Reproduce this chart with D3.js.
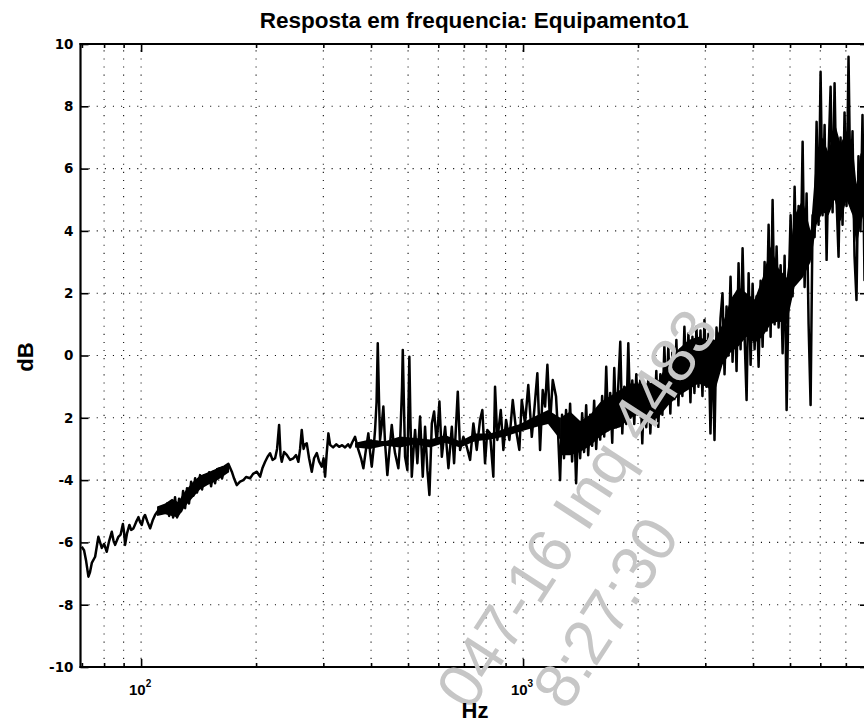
<!DOCTYPE html>
<html><head><meta charset="utf-8">
<script src="https://cdn.jsdelivr.net/npm/d3@7"></script>
<style>
html,body{margin:0;padding:0;background:#fff;}
svg{display:block;}
</style></head><body>
<svg id="chart" width="864" height="723"></svg>
<script>
const title = "Resposta em frequencia: Equipamento1";
const xLabel = "Hz";
const yLabel = "dB";
const xDomain = [69.4, 8000];
const yDomain = [-10, 10];
const yTickValues = [-10, -8, -6, -4, -2, 0, 2, 4, 6, 8, 10];
const yTickLabels = ["-10", "-8", "-6", "-4", "2", "0", "2", "4", "6", "8", "10"];
const xMajorTicks = [100, 1000];
const xMajorExponents = ["2", "3"];
const xMinorTicks = [70, 80, 90, 200, 300, 400, 500, 600, 700, 800, 900, 2000, 3000, 4000, 5000, 6000, 7000, 8000];
const watermarkLines = ["047-16 Inq 4483", "8:27:30"];

// trace, 70 Hz .. 1.24 kHz
const traceHz = [
69.9,70.9,71.8,72.8,73.5,74.3,75.8,77.3,78.1,78.9,80.0,81.3,82.5,83.8,84.7,85.5,87.2,88.4,89.6,90.3,
90.8,91.9,93.2,94.2,95.5,97.0,98.4,99.4,100.4,101.5,102.4,104.0,105.6,107.2,108.8,110.5,112.1,113.8,115.6,117.0,
118.4,119.8,121.3,122.7,124.2,125.7,127.3,128.8,130.4,131.9,133.5,135.2,137.1,138.5,140.1,142.7,144.4,146.2,148.6,150.7,
152.5,154.6,156.2,158.1,161.0,162.9,165.9,169.3,171.0,172.8,175.2,178.0,181.6,185.3,188.3,192.9,196.4,200.9,204.9,208.0,
211.2,214.4,217.6,220.9,224.3,227.0,229.8,231.8,233.5,236.8,240.7,245.5,250.4,254.5,258.1,260.8,263.4,266.3,268.7,271.5,
275.3,279.8,283.7,288.4,292.4,297.2,300.4,303.2,305.9,309.3,312.5,318.2,324.1,330.0,336.0,342.0,348.2,352.4,356.7,363.2,
369.9,376.6,381.9,388.1,393.5,397.6,401.7,406.1,409.8,413.5,416.5,419.8,422.3,426.1,430.8,435.2,441.3,447.2,453.2,458.2,
462.3,471.6,476.5,478.5,482.2,484.3,487.5,491.0,497.9,501.5,503.9,507.0,511.3,516.9,521.6,528.8,537.5,546.3,553.9,561.8,
568.7,577.0,585.0,594.6,604.0,612.8,625.1,637.7,650.9,659.8,674.7,684.1,697.9,712.3,726.7,741.3,756.4,771.6,782.4,795.2,
806.3,819.5,836.0,844.6,856.6,874.3,888.1,902.7,920.9,939.8,958.7,977.9,992.2,1012,1032,1054,1070,1090,1108,1126,
1142,1158,1177,1196,1220,1235
];
const traceDb = [
-6.14,-6.25,-6.6,-7.10,-6.95,-6.66,-6.46,-5.82,-6.0,-6.18,-6.05,-6.30,-5.95,-5.66,-5.95,-6.08,-5.82,-5.75,-5.41,-5.7,
-6.08,-5.7,-5.44,-5.6,-5.55,-5.35,-5.19,-5.35,-5.44,-5.2,-5.12,-5.35,-5.55,-5.3,-5.12,-5.0,-4.91,-5.05,-4.96,-4.75,
-5.15,-4.7,-5.2,-4.55,-5.2,-4.6,-5.0,-4.35,-4.9,-4.26,-4.75,-4.05,-4.5,-3.94,-4.4,-3.84,-4.3,-3.85,-4.0,-3.75,
-4.2,-3.73,-4.1,-3.65,-3.62,-3.95,-3.55,-3.48,-3.6,-3.73,-3.95,-4.16,-4.05,-4.00,-3.9,-3.94,-3.8,-3.73,-3.89,-3.6,
-3.41,-3.25,-3.14,-3.35,-3.30,-3.0,-2.23,-3.2,-3.41,-3.1,-3.19,-3.35,-3.30,-3.2,-3.41,-3.0,-2.39,-3.0,-2.85,-2.82,
-3.3,-3.73,-3.3,-3.13,-3.4,-3.57,-3.3,-3.89,-3.2,-2.50,-2.87,-2.95,-2.85,-2.93,-2.88,-2.95,-2.85,-2.95,-2.80,-2.61,
-3.0,-3.3,-3.62,-3.0,-2.50,-3.1,-3.57,-3.0,-2.39,-1.5,0.39,-1.5,-2.71,-2.3,-1.64,-2.8,-3.84,-3.0,-2.23,-2.8,
-3.14,-3.62,-2.8,-2.18,-1.0,0.18,-1.5,-3.25,-3.68,-1.5,-0.04,-2.0,-3.89,-3.0,-2.39,-3.46,-1.96,-3.89,-2.29,-3.68,
-4.48,-2.18,-1.80,-2.82,-1.48,-3.25,-2.29,-3.62,-2.29,-3.46,-1.16,-3.03,-2.61,-2.93,-3.35,-2.18,-3.03,-2.07,-1.75,-3.46,
-2.39,-2.50,-3.89,-1.00,-2.71,-1.75,-3.03,-2.07,-2.71,-1.43,-2.39,-3.03,-1.43,-2.18,-0.95,-2.61,-1.75,-0.57,-3.03,-1.11,
-1.64,-0.30,-2.18,-0.79,-1.32,-2.5
];
// dense, rapidly oscillating part, 1.25 kHz .. 8 kHz
const denseHz = [
1250,1265,1280,1296,1312,1328,1344,1360,1377,1394,
1411,1428,1445,1463,1481,1499,1517,1535,1554,1573,
1592,1611,1631,1651,1671,1691,1712,1733,1754,1775,
1797,1819,1841,1863,1886,1909,1932,1955,1979,2003,
2027,2052,2077,2102,2128,2154,2180,2206,2233,2260,
2288,2316,2344,2372,2401,2430,2460,2490,2520,2551,
2582,2613,2645,2677,2710,2743,2776,2810,2844,2879,
2914,2949,2985,3021,3058,3095,3133,3171,3210,3249,
3288,3328,3369,3410,3451,3493,3536,3579,3622,3666,
3711,3756,3802,3848,3895,3942,3990,4038,4087,4137,
4187,4238,4289,4341,4394,4447,4501,4556,4611,4667,
4724,4781,4839,4898,4957,5017,5078,5140,5202,5265,
5329,5394,5459,5525,5592,5660,5729,5798,5868,5939,
6011,6084,6158,6233,6309,6385,6462,6540,6619,6699,
6780,6862,6945,7029,7114,7200,7287,7375,7464,7554,
7646,7739,7833,7928,8000
];
const denseDb = [
-4.0,-1.9,-3.3,-1.75,-3.0,-1.55,-3.4,-2.0,-4.1,-2.2,
-3.3,-1.85,-3.1,-1.6,-3.2,-1.9,-2.9,-1.45,-3.0,-1.7,
-2.7,-1.3,-2.6,-0.36,-2.4,-1.2,-2.8,-0.4,-2.3,-1.0,
0.44,-2.5,-1.0,-2.2,0.39,-2.0,-0.8,-2.2,-0.6,-1.9,
-0.8,-2.82,-0.9,-2.3,-0.7,-2.5,-0.9,-2.1,-0.5,-2.29,
-0.6,-1.9,0.3,-1.5,0.28,-1.86,0.1,-1.4,0.5,-1.6,
0.2,-1.3,0.92,-1.0,0.71,-1.5,0.6,-1.2,0.92,-1.0,
0.8,-1.3,1.14,-1.0,0.7,-2.5,0.5,-2.71,0.9,-0.36,
1.2,2.0,-0.6,1.57,0.0,2.53,-0.2,1.9,-0.5,2.96,
0.2,3.44,0.6,-1.43,2.64,-0.3,2.3,0.2,1.9,-0.36,
2.4,0.28,3.0,0.8,4.2,0.6,4.99,1.0,3.5,0.9,
2.9,0.07,3.2,-1.75,2.0,4.5,1.9,5.42,2.4,4.8,
2.8,6.86,2.2,5.2,1.0,-1.59,4.5,3.8,7.5,4.2,
9.11,4.5,7.4,3.07,6.5,8.63,4.6,8.74,5.0,3.17,
7.0,4.2,7.8,4.8,9.59,5.0,7.2,3.2,1.78,6.4,
4.0,7.72,2.42,6.0,5.5
];
// solid cores of the trace, where samples overlap
const coreAHz = [110.1, 115.6, 120.5, 124.9, 130.4, 136.8, 142.7, 149.8, 156.2, 162.9, 170.0];
const coreATopDb = [-4.85, -4.75, -4.6, -4.7, -4.35, -4.05, -3.85, -3.75, -3.65, -3.55, -3.5];
const coreABottomDb = [-5.15, -5.1, -5.15, -5.2, -4.85, -4.55, -4.3, -4.15, -4.05, -3.9, -3.75];
const coreBHz = [363.2, 397.6, 435.2, 476.5, 521.6, 571.1, 625.1, 684.1, 748.7, 819.5, 897.3, 982.1, 1075, 1163, 1250];
const coreBTopDb = [-2.8, -2.7, -2.75, -2.6, -2.65, -2.7, -2.55, -2.75, -2.5, -2.5, -2.35, -2.2, -1.95, -1.75, -2.0];
const coreBBottomDb = [-2.95, -3.0, -2.9, -2.95, -2.85, -2.95, -2.8, -2.95, -2.75, -2.7, -2.6, -2.45, -2.3, -2.2, -2.7];
const coreCHz = [1250, 1328, 1411, 1499, 1592, 1691, 1797, 1909, 2003, 2128, 2260, 2401, 2551, 2710, 2879, 3021, 3171, 3328, 3493, 3666, 3848, 4038, 4238, 4447, 4667, 4898, 5140, 5394, 5660, 5868, 6084, 6309, 6540, 6780, 7029, 7287, 7464, 7646, 8000];
const coreCTopDb = [-2.0, -1.8, -2.1, -1.9, -1.5, -1.3, -1.1, -0.9, -0.9, -0.9, -0.8, -0.2, 0.2, 0.5, 0.6, 0.5, 0.5, 1.0, 1.8, 2.2, 2.0, 1.8, 2.5, 3.5, 2.8, 2.5, 4.5, 5.0, 4.0, 6.5, 7.0, 6.5, 7.5, 6.8, 7.2, 6.8, 5.5, 6.5, 6.0];
const coreCBottomDb = [-3.2, -3.2, -3.1, -2.9, -2.6, -2.4, -2.3, -2.0, -1.9, -2.1, -2.0, -1.6, -1.3, -1.1, -0.9, -1.0, -1.2, -0.3, 0.1, 0.3, 0.6, 0.4, 0.6, 1.0, 1.1, 1.0, 2.2, 2.5, 3.0, 4.2, 4.6, 4.5, 5.0, 4.3, 5.0, 4.5, 3.5, 4.2, 5.0];

const svg = d3.select("#chart");
svg.append("rect").attr("width", 864).attr("height", 723).attr("fill", "#fff");

const L = 80.5, R = 868, T = 44, B = 667;
const x = d3.scaleLog().domain(xDomain).range([L, R]);
const y = d3.scaleLinear().domain(yDomain).range([B, T]);

svg.append("defs").append("clipPath").attr("id", "plotclip")
  .append("rect").attr("x", L).attr("y", T).attr("width", R - L).attr("height", B - T);

// grid (dotted)
const grid = svg.append("g").attr("stroke", "#111").attr("stroke-width", 1.1)
  .attr("stroke-dasharray", "1.1 7").attr("fill", "none");
xMinorTicks.concat(xMajorTicks).filter(v => x(v) > L + 3 && x(v) < R - 3).forEach(v => {
  grid.append("line").attr("x1", x(v)).attr("x2", x(v)).attr("y1", B).attr("y2", T);
});
yTickValues.filter(v => v > yDomain[0] && v < yDomain[1]).forEach(v => {
  grid.append("line").attr("x1", L).attr("x2", R).attr("y1", y(v)).attr("y2", y(v));
});

// data
const plot = svg.append("g").attr("clip-path", "url(#plotclip)");
const area = d3.area().x(d => x(d.f)).y0(d => y(d.lo)).y1(d => y(d.hi));
[[coreAHz, coreATopDb, coreABottomDb], [coreBHz, coreBTopDb, coreBBottomDb], [coreCHz, coreCTopDb, coreCBottomDb]]
  .forEach(([fs, hi, lo]) => {
    plot.append("path").datum(fs.map((f, i) => ({f, hi: hi[i], lo: lo[i]})))
      .attr("d", area).attr("fill", "#000");
  });
const lineData = traceHz.map((f, i) => ({f, db: traceDb[i]}))
  .concat(denseHz.map((f, i) => ({f, db: denseDb[i]})));
plot.append("path").datum(lineData)
  .attr("d", d3.line().x(d => x(d.f)).y(d => y(d.db)))
  .attr("fill", "none").attr("stroke", "#000").attr("stroke-width", 2.5).attr("stroke-linejoin", "round");

// axes
function styleAxis(g) {
  g.select(".domain").remove();
  g.selectAll(".tick line").attr("stroke", "#000").attr("stroke-width", 1.6);
}
const tickFont = "'DejaVu Sans', sans-serif";
const yAxisL = svg.append("g").attr("transform", `translate(${L},0)`)
  .call(d3.axisLeft(y).tickValues(yTickValues).tickSize(-8).tickPadding(7)
    .tickFormat((d, i) => yTickLabels[i]));
styleAxis(yAxisL);
yAxisL.selectAll("text").attr("font-family", tickFont).attr("font-weight", "bold")
  .attr("font-size", 13.5).attr("fill", "#000");
const yAxisR = svg.append("g").attr("transform", `translate(${R},0)`)
  .call(d3.axisRight(y).tickValues(yTickValues).tickSize(-8).tickFormat(""));
styleAxis(yAxisR);

[[B, d3.axisBottom], [T, d3.axisTop]].forEach(([pos, ax]) => {
  const gMaj = svg.append("g").attr("transform", `translate(0,${pos})`)
    .call(ax(x).tickValues(xMajorTicks).tickSize(-8).tickFormat(""));
  styleAxis(gMaj);
  const gMin = svg.append("g").attr("transform", `translate(0,${pos})`)
    .call(ax(x).tickValues(xMinorTicks).tickSize(-4).tickFormat(""));
  styleAxis(gMin);
});

// frame
const frame = svg.append("g").attr("stroke", "#000").attr("stroke-width", 2.2).attr("fill", "none");
frame.append("line").attr("x1", L).attr("x2", L).attr("y1", T - 1).attr("y2", B + 1);
frame.append("line").attr("x1", R).attr("x2", R).attr("y1", T - 1).attr("y2", B + 1);
frame.append("line").attr("x1", L - 1).attr("x2", R + 1).attr("y1", T).attr("y2", T);
frame.append("line").attr("x1", L - 1).attr("x2", R + 1).attr("y1", B).attr("y2", B);

// x tick labels 10^n
xMajorTicks.forEach((v, i) => {
  const t = svg.append("text").attr("x", x(v) - 1).attr("y", 695)
    .attr("text-anchor", "middle").attr("font-family", "'Liberation Sans', Arial, sans-serif")
    .attr("font-weight", "bold").attr("font-size", 15).attr("fill", "#000");
  t.append("tspan").text("10");
  t.append("tspan").attr("dy", -8).attr("font-size", 10).text(xMajorExponents[i]);
});

// watermark (kept fully inside the page)
const wm = svg.append("g").attr("fill", "#c6c6c6")
  .attr("font-family", "'Liberation Sans', Arial, sans-serif").attr("font-size", 63);
wm.append("text").attr("transform", "translate(720,328) rotate(-57)")
  .attr("text-anchor", "end").text(watermarkLines[0]);
wm.append("text").attr("transform", "translate(681,536) rotate(-57)")
  .attr("text-anchor", "end").text(watermarkLines[1]);

// titles
const labFont = "'Liberation Sans', Arial, sans-serif";
svg.append("text").attr("x", (L + R) / 2).attr("y", 28).attr("text-anchor", "middle")
  .attr("font-family", labFont).attr("font-weight", "bold").attr("font-size", 22.5).attr("fill", "#000").text(title);
svg.append("text").attr("x", 475).attr("y", 718).attr("text-anchor", "middle")
  .attr("font-family", labFont).attr("font-weight", "bold").attr("font-size", 22).attr("fill", "#000").text(xLabel);
svg.append("text").attr("transform", "translate(33,357) rotate(-90)").attr("text-anchor", "middle")
  .attr("font-family", labFont).attr("font-weight", "bold").attr("font-size", 22).attr("fill", "#000").text(yLabel);
</script>
</body></html>
